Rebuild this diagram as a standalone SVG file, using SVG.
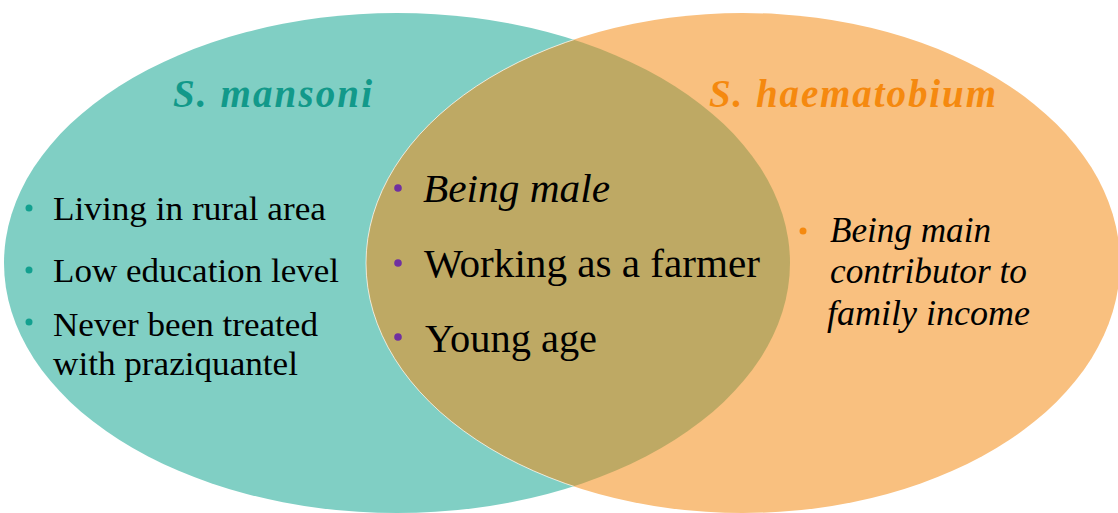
<svg xmlns="http://www.w3.org/2000/svg" width="1118" height="513" viewBox="0 0 1118 513">
<style>
.t{font-family:"Liberation Serif","Times New Roman",serif;fill:#000}
.s{font-size:34px}
.r{font-size:35px;font-style:italic}
.m{font-size:41px}
.i{font-style:italic}
.h{font-family:"Liberation Serif","Times New Roman",serif;font-size:39px;font-weight:bold;font-style:italic}
</style>
<defs>
<clipPath id="clipL"><ellipse cx="397" cy="263" rx="393" ry="250"/></clipPath>
</defs>
<rect width="1118" height="513" fill="#fff"/>
<g id="mansoni">
<ellipse cx="397" cy="263" rx="393" ry="250" fill="#80cfc4"/>
</g>
<g id="haematobium">
<ellipse cx="743" cy="263" rx="377" ry="250" fill="#f9c07f"/>
</g>
<g id="overlap">
<ellipse cx="743" cy="263" rx="377" ry="250" fill="#bea964" clip-path="url(#clipL)"/>
<ellipse cx="743" cy="263" rx="377" ry="250" fill="none" stroke="#fff" stroke-opacity="0.7" stroke-width="1" clip-path="url(#clipL)"/>
</g>
<g id="labels">
<text class="h" x="173" y="107" fill="#12998a" textLength="199" lengthAdjust="spacing">S. mansoni</text>
<text class="h" x="709" y="107" fill="#f5890f" textLength="287" lengthAdjust="spacing">S. haematobium</text>
</g>
<g id="left-items">
<circle cx="29" cy="208" r="3.5" fill="#12a08f"/>
<text class="t s" x="53" y="220" textLength="273" lengthAdjust="spacingAndGlyphs">Living in rural area</text>
<circle cx="29" cy="270" r="3.5" fill="#12a08f"/>
<text class="t s" x="53" y="282" textLength="286" lengthAdjust="spacingAndGlyphs">Low education level</text>
<circle cx="29" cy="322" r="3.5" fill="#12a08f"/>
<text class="t s" x="53" y="336" textLength="265" lengthAdjust="spacingAndGlyphs">Never been treated</text>
<text class="t s" x="53" y="375" textLength="245" lengthAdjust="spacingAndGlyphs">with praziquantel</text>
</g>
<g id="shared-items">
<circle cx="398" cy="188" r="3.8" fill="#7030a0"/>
<text class="t m i" x="423" y="202" textLength="187" lengthAdjust="spacingAndGlyphs">Being male</text>
<circle cx="398" cy="263" r="3.8" fill="#7030a0"/>
<text class="t m" x="424" y="277" textLength="336" lengthAdjust="spacingAndGlyphs">Working as a farmer</text>
<circle cx="398" cy="337" r="3.8" fill="#7030a0"/>
<text class="t m" x="425" y="352" textLength="172" lengthAdjust="spacingAndGlyphs">Young age</text>
</g>
<g id="right-items">
<circle cx="803" cy="231" r="3.5" fill="#f5890f"/>
<text class="t r" x="830" y="242" textLength="161" lengthAdjust="spacingAndGlyphs">Being main</text>
<text class="t r" x="830" y="283" textLength="197" lengthAdjust="spacingAndGlyphs">contributor to</text>
<text class="t r" x="827" y="325" textLength="203" lengthAdjust="spacingAndGlyphs">family income</text>
</g>
</svg>
